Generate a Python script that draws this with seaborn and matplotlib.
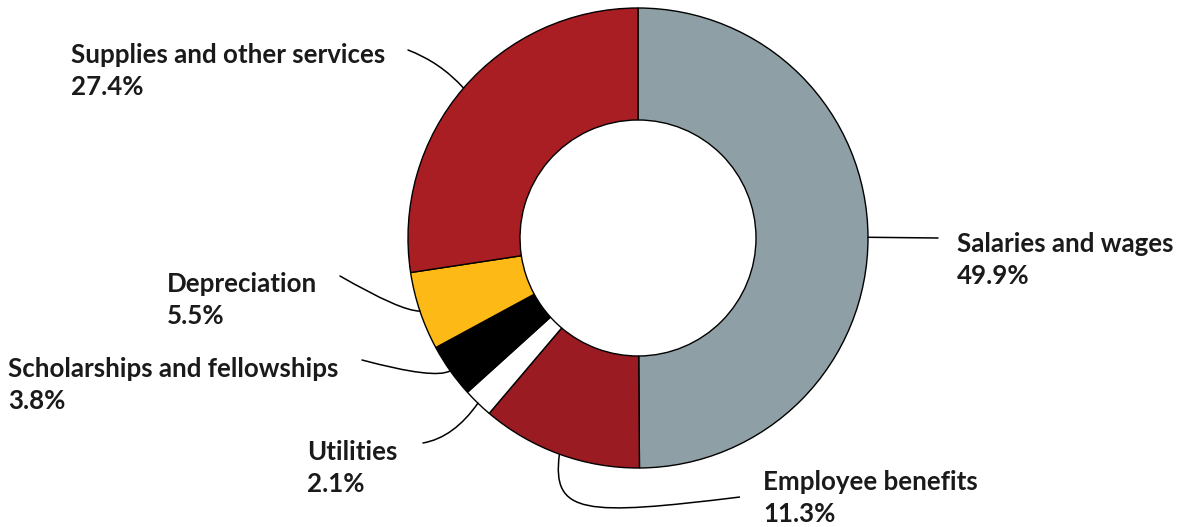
import matplotlib
matplotlib.use("Agg")
import matplotlib.pyplot as plt
from matplotlib.path import Path
from matplotlib.patches import PathPatch
import seaborn as sns
import numpy as np

# ---- data ----
categories = ["Salaries and wages", "Employee benefits", "Utilities",
              "Scholarships and fellowships", "Depreciation",
              "Supplies and other services"]
values = [49.9, 11.3, 2.1, 3.8, 5.5, 27.4]
pct_labels = ["49.9%", "11.3%", "2.1%", "3.8%", "5.5%", "27.4%"]
colors = ["#8E9FA5", "#9A1B21", "#FFFFFF", "#000000", "#FDBA16", "#A91E22"]

sns.set_theme(style="white")
plt.rcParams["font.family"] = ["Lato", "DejaVu Sans"]

W, H = 1182, 527
fig = plt.figure(figsize=(W / 100, H / 100), dpi=100)
ax = fig.add_axes([0, 0, 1, 1])

cx, cy = 638, H - 238
R = 230
wedges, _ = ax.pie(values, colors=colors, startangle=90, counterclock=False,
                   center=(cx, cy), radius=R, frame=True,
                   wedgeprops=dict(width=112, edgecolor="black", linewidth=1.0))
ax.set_xlim(0, W)
ax.set_ylim(0, H)
ax.set_aspect("equal")
ax.axis("off")

# label layout: (text x, first baseline y in image px, leader end point in image px, connection style)
layout = [
    (957, 252, (938, 238), "arc3,rad=0"),
    (763, 490, (740, 497), None),
    (307, 460, (423, 443), "angle3,angleA=10,angleB=55"),
    (8, 377, (362, 360), "angle3,angleA=-15,angleB=30"),
    (167, 292, (340, 276), "angle3,angleA=-30,angleB=0"),
    (71, 63, (408, 50), "arc3,rad=-0.12"),
]

for w, cat, pct, (tx, ty, (ex, ey), cs) in zip(wedges, categories, pct_labels, layout):
    mid = np.deg2rad((w.theta1 + w.theta2) / 2)
    ax_x = cx + R * np.cos(mid)
    ax_y = cy + R * np.sin(mid)
    if cs is None:
        verts = [(ax_x, ax_y), (ax_x - 8, H - 515), (ax_x + 25, H - 516), (ex, H - ey)]
        codes = [Path.MOVETO, Path.CURVE4, Path.CURVE4, Path.CURVE4]
        ax.add_patch(PathPatch(Path(verts, codes), facecolor="none",
                               edgecolor="black", lw=1.1))
    else:
        ax.annotate("", xy=(ax_x, ax_y), xytext=(ex, H - ey),
                    arrowprops=dict(arrowstyle="-", color="black", lw=1.1,
                                    shrinkA=0, shrinkB=0, connectionstyle=cs))
    ax.text(tx, H - ty, cat, fontsize=18.6, fontweight="bold", color="#1a1a1a",
            ha="left", va="baseline")
    ax.text(tx, H - ty - 32, pct, fontsize=18.6, fontweight="bold", color="#1a1a1a",
            ha="left", va="baseline")

fig.savefig("out.png", dpi=100, facecolor="white")
